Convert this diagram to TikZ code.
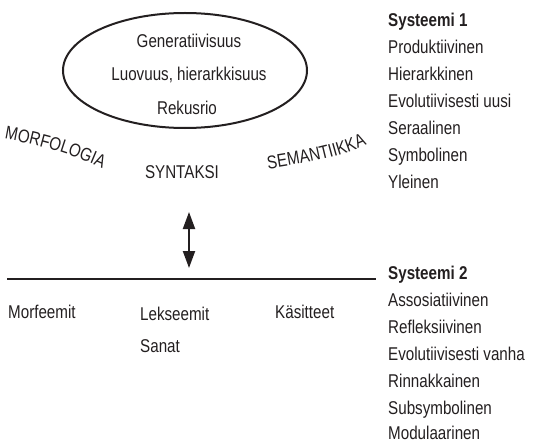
\documentclass[tikz,border=0pt]{standalone}
\usepackage{fontspec}
\setmainfont{Liberation Sans}[FakeStretch=0.82]
\usetikzlibrary{arrows.meta,decorations.text,shapes.geometric}
\definecolor{ink}{RGB}{35,31,32}
\newcommand{\lblfont}{\fontsize{18.5}{21}\selectfont}
\begin{document}
\begin{tikzpicture}[x=1pt,y=-1pt,
  txt/.style={font=\lblfont, text=ink, inner sep=0pt, anchor=base west},
  ctr/.style={font=\lblfont, text=ink, inner sep=0pt, anchor=base},
  hd/.style={txt, font=\lblfont\bfseries},
  oval/.style={draw=ink, ellipse, line width=2pt, inner sep=0pt},
  curved/.style={decorate, decoration={text along path, text align=center,
     text={|\lblfont\color{ink}|#1}}}
]
\useasboundingbox (0,0) rectangle (534,441);

% ellipse
\node[oval, minimum width=244pt, minimum height=115pt] (ell) at (185,70.5) {};
\node[ctr] (g1) at (189,48) {Generatiivisuus};
\node[ctr] (g2) at (189,81) {Luovuus, hierarkkisuus};
\node[ctr] (g3) at (187,114) {Rekusrio};

% curved labels
\path[curved=MORFOLOGIA] (6,139) .. controls (37,144.5) and (68,153) .. (101,168);
\path[curved=SEMANTIIKKA] (269,169) .. controls (300,164) and (335,159) .. (366,145);
\node[ctr] (syn) at (182,178) {SYNTAKSI};

% arrow and line
\coordinate (atop) at (189,212);
\coordinate (abot) at (189,268);
\draw[ink, line width=2pt, {Triangle[length=17pt,width=12pt]}-{Triangle[length=17pt,width=12pt]}] (atop) -- (abot);
\coordinate (l1) at (7,279);
\coordinate (l2) at (376,279);
\draw[ink, line width=2.5pt] (l1) -- (l2);

% bottom labels
\node[txt] (mf) at (8,318) {Morfeemit};
\node[txt] (lx) at (140,320) {Lekseemit};
\node[txt] (sn) at (140,352) {Sanat};
\node[txt] (ks) at (275,318) {Käsitteet};

% Systeemi 1
\node[hd]  (s1)  at (388,26.5) {Systeemi 1};
\node[txt] (s1a) at (388,53.5) {Produktiivinen};
\node[txt] (s1b) at (388,80.5) {Hierarkkinen};
\node[txt] (s1c) at (388,107.5) {Evolutiivisesti uusi};
\node[txt] (s1d) at (388,134.5) {Seraalinen};
\node[txt] (s1e) at (388,161.5) {Symbolinen};
\node[txt] (s1f) at (388,188.5) {Yleinen};

% Systeemi 2
\node[hd]  (s2)  at (388,279.5) {Systeemi 2};
\node[txt] (s2a) at (388,306.4) {Assosiatiivinen};
\node[txt] (s2b) at (388,333.3) {Refleksiivinen};
\node[txt] (s2c) at (388,360.2) {Evolutiivisesti vanha};
\node[txt] (s2d) at (388,387.1) {Rinnakkainen};
\node[txt] (s2e) at (388,414) {Subsymbolinen};
\node[txt] (s2f) at (388,439.5) {Modulaarinen};
\end{tikzpicture}
\end{document}
